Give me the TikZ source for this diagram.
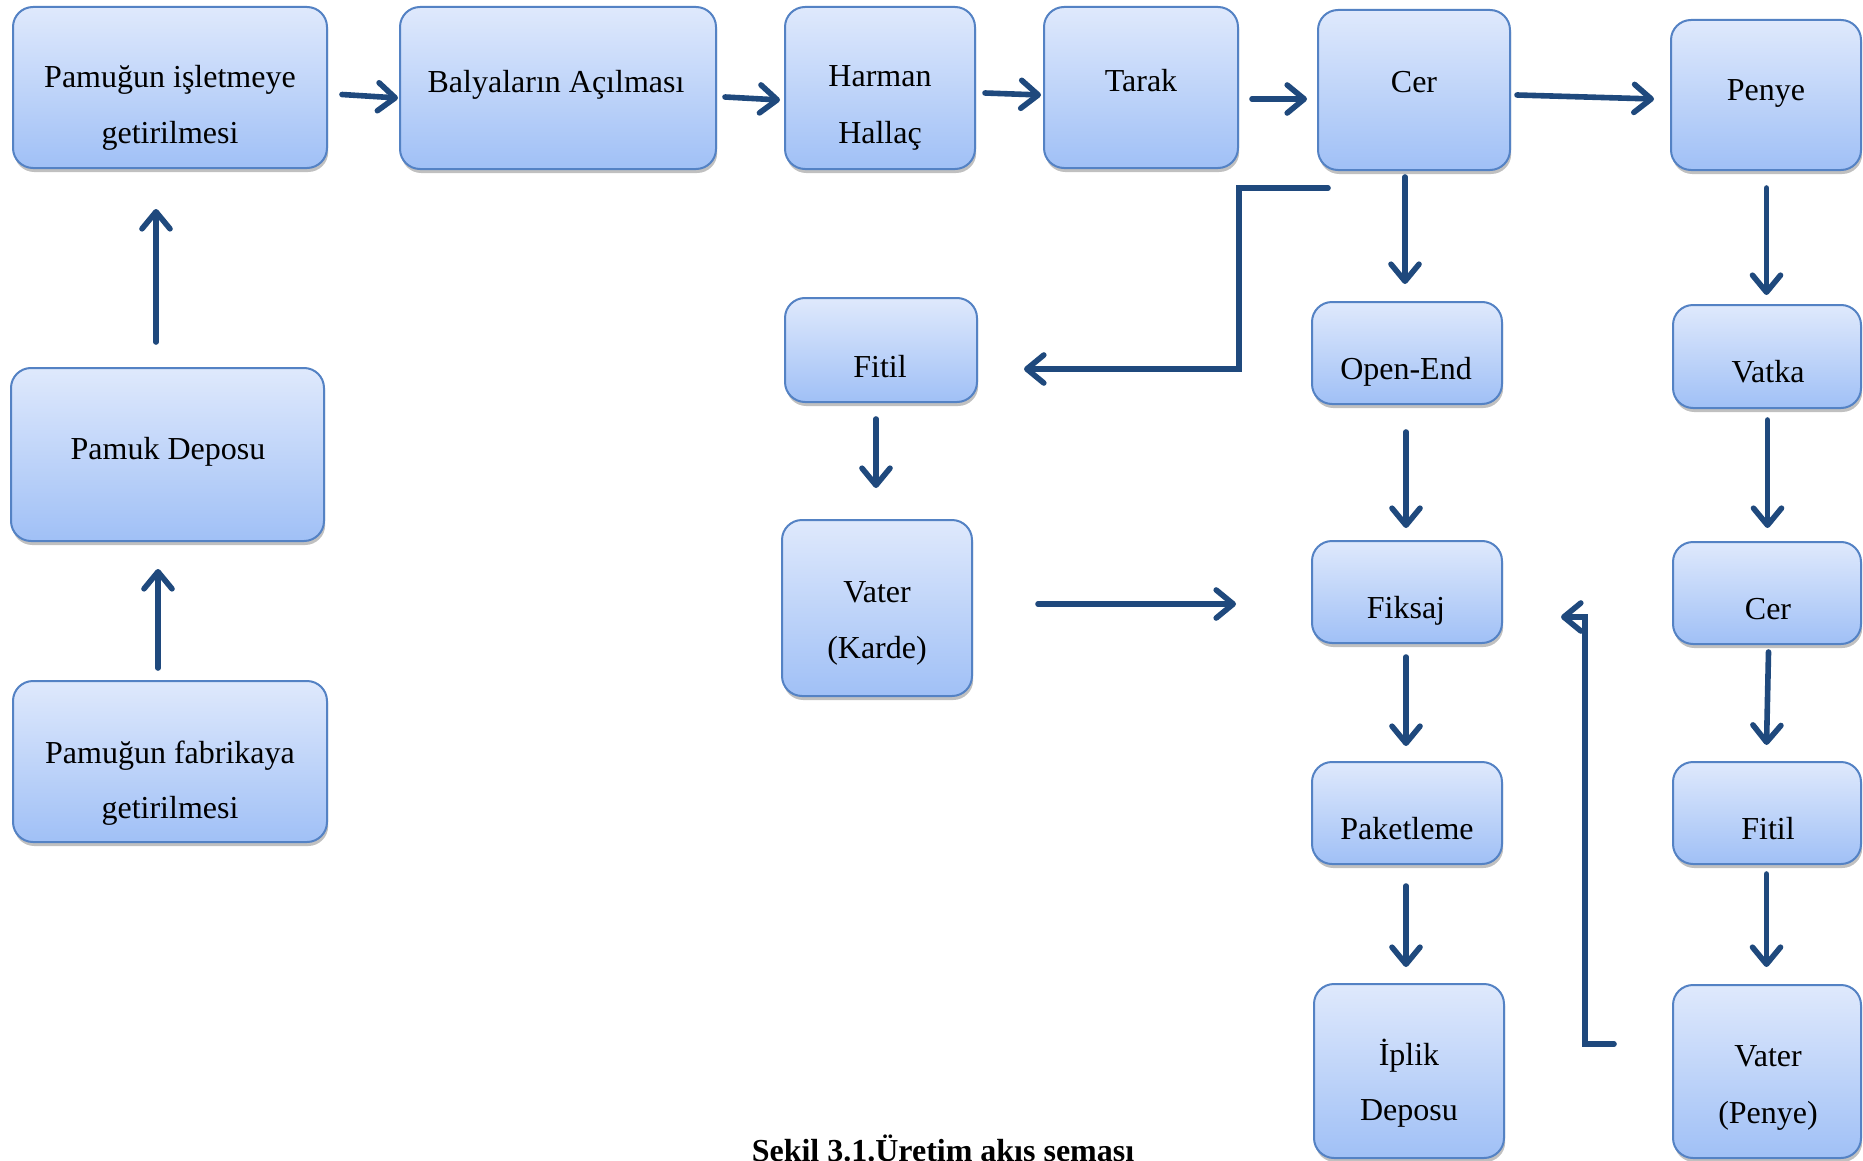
\documentclass[tikz,border=0pt]{standalone}
\usepackage{fontspec}
\setmainfont{Liberation Serif}
\usetikzlibrary{arrows.meta,shadows,calc}
\definecolor{arrblue}{RGB}{31,73,125}
\definecolor{boxedge}{RGB}{84,130,196}
\definecolor{boxtop}{RGB}{223,233,252}
\definecolor{boxbot}{RGB}{160,192,246}
\tikzset{
  box/.style={draw=boxedge, line width=1pt, rounded corners=10pt,
    top color=boxtop, bottom color=boxbot, inner sep=0pt,
    drop shadow={shadow xshift=0.6pt, shadow yshift=-2pt, opacity=0.35, fill=black!70}},
  lbl/.style={font=\fontsize{16}{28}\selectfont, inner sep=0pt, anchor=base},
  arr/.style={draw=arrblue, line width=2.8pt, line cap=round, line join=miter,
    -{Straight Barb[length=8.5pt,width=14pt,round]}},
}
\newcommand\bx[5]{\node[box, minimum width={(#4-#2)*0.5pt}, minimum height={(#5-#3)*0.5pt}] (#1) at ({(#2+#4)/2},{(#3+#5)/2}) {};}
\begin{document}
\begin{tikzpicture}[x=0.5pt,y=-0.5pt]
\useasboundingbox (0,0) rectangle (1863,1161);
\fill[white] (0,0) rectangle (1863,1161);
% boxes
\bx{pisl}{13}{7}{327}{168}
\bx{balya}{400}{7}{716}{169}
\bx{harman}{785}{7}{975}{169}
\bx{tarak}{1044}{7}{1238}{168}
\bx{cera}{1318}{10}{1510}{170}
\bx{penye}{1671}{20}{1861}{170}
\bx{fitila}{785}{298}{977}{402}
\bx{open}{1312}{302}{1502}{404}
\bx{vatka}{1673}{305}{1861}{408}
\bx{pdep}{11}{368}{324}{541}
\bx{vaterk}{782}{520}{972}{696}
\bx{fiksaj}{1312}{541}{1502}{643}
\bx{cerb}{1673}{542}{1861}{644}
\bx{pfab}{13}{681}{327}{842}
\bx{paket}{1312}{762}{1502}{864}
\bx{fitilb}{1673}{762}{1861}{864}
\bx{iplik}{1314}{984}{1504}{1158}
\bx{vaterp}{1673}{985}{1861}{1158}
% texts
\node[lbl] (t1a) at (170,88) {Pamuğun işletmeye};
\node[lbl] (t1b) at (170,144) {getirilmesi};
\node[lbl] (t2) at (556,93) {Balyaların Açılması};
\node[lbl] (t3a) at (880,87) {Harman};
\node[lbl] (t3b) at (880,143) {Hallaç};
\node[lbl] (t4) at (1141,92) {Tarak};
\node[lbl] (t5) at (1414,93) {Cer};
\node[lbl] (t6) at (1766,101) {Penye};
\node[lbl] (t7) at (880,377) {Fitil};
\node[lbl] (t8) at (1406,379) {Open-End};
\node[lbl] (t9) at (1768,382) {Vatka};
\node[lbl] (t10) at (168,459) {Pamuk Deposu};
\node[lbl] (t11a) at (877,602) {Vater};
\node[lbl] (t11b) at (877,658) {(Karde)};
\node[lbl] (t12) at (1406,618) {Fiksaj};
\node[lbl] (t13) at (1768,619) {Cer};
\node[lbl] (t14a) at (170,763) {Pamuğun fabrikaya};
\node[lbl] (t14b) at (170,818) {getirilmesi};
\node[lbl] (t15) at (1407,839) {Paketleme};
\node[lbl] (t16) at (1768,839) {Fitil};
\node[lbl] (t17a) at (1409,1065) {İplik};
\node[lbl] (t17b) at (1409,1120) {Deposu};
\node[lbl] (t18a) at (1768,1066) {Vater};
\node[lbl] (t18b) at (1768,1123) {(Penye)};
\node[lbl, font=\fontsize{16}{28}\selectfont\bfseries] (cap) at (943,1161) {Şekil 3.1.Üretim akış şeması};
% arrows
\draw[arr] ($(pisl.east)+(14,7)$) -- ($(balya.west)+(-1,10)$);
\draw[arr] ($(balya.east)+(8,9)$) -- ($(harman.west)+(-4,12)$);
\draw[arr] ($(harman.east)+(9,5)$) -- ($(tarak.west)+(-2,7.5)$);
\draw[arr] ($(tarak.east)+(13,11.5)$) -- ($(cera.west)+(-10,9)$);
\draw[arr] ($(cera.east)+(6,5)$) -- ($(penye.west)+(-16,4)$);
\draw[arr] ($(pdep.north)+(-11.5,-25)$) -- ($(pisl.south)+(-14,40)$);
\draw[arr] ($(pfab.north)+(-12,-12)$) -- ($(pdep.south)+(-9.5,27)$);
\draw[arr] ($(cera.south)+(-9,6)$) -- ($(open.north)+(-2,-17)$);
\draw[arr] ($(cera.south west)+(11,17)$) -- ++(-89,0) |- ($(fitila.east)+(46,19)$);
\draw[arr] ($(fitila.south)+(-5,16)$) -- ($(vaterk.north)+(-1,-31)$);
\draw[arr] ($(vaterk.east)+(65,-4)$) -- ($(fiksaj.west)+(-75,12)$);
\draw[arr] ($(open.south)+(-1,27)$) -- ($(fiksaj.north)+(-1,-12)$);
\draw[arr] ($(fiksaj.south)+(-1,13)$) -- ($(paket.north)+(-1,-15)$);
\draw[arr] ($(paket.south)+(-1,21)$) -- ($(iplik.north)+(-3,-16)$);
\draw[arr] ($(penye.south)+(0.5,17)$) -- ($(vatka.north)+(-0.5,-9)$);
\draw[arr] ($(vatka.south)+(0.5,11)$) -- ($(cerb.north)+(0.5,-13)$);
\draw[arr] ($(cerb.south)+(1.5,7)$) -- ($(fitilb.north)+(-0.5,-16)$);
\draw[arr] ($(fitilb.south)+(-0.5,9)$) -- ($(vaterp.north)+(-0.5,-17)$);
\draw[arr] ($(vaterp.west)+(-58,-27.5)$) -- ++(-29,0) |- ($(fiksaj.east)+(58,25)$);
\end{tikzpicture}
\end{document}
